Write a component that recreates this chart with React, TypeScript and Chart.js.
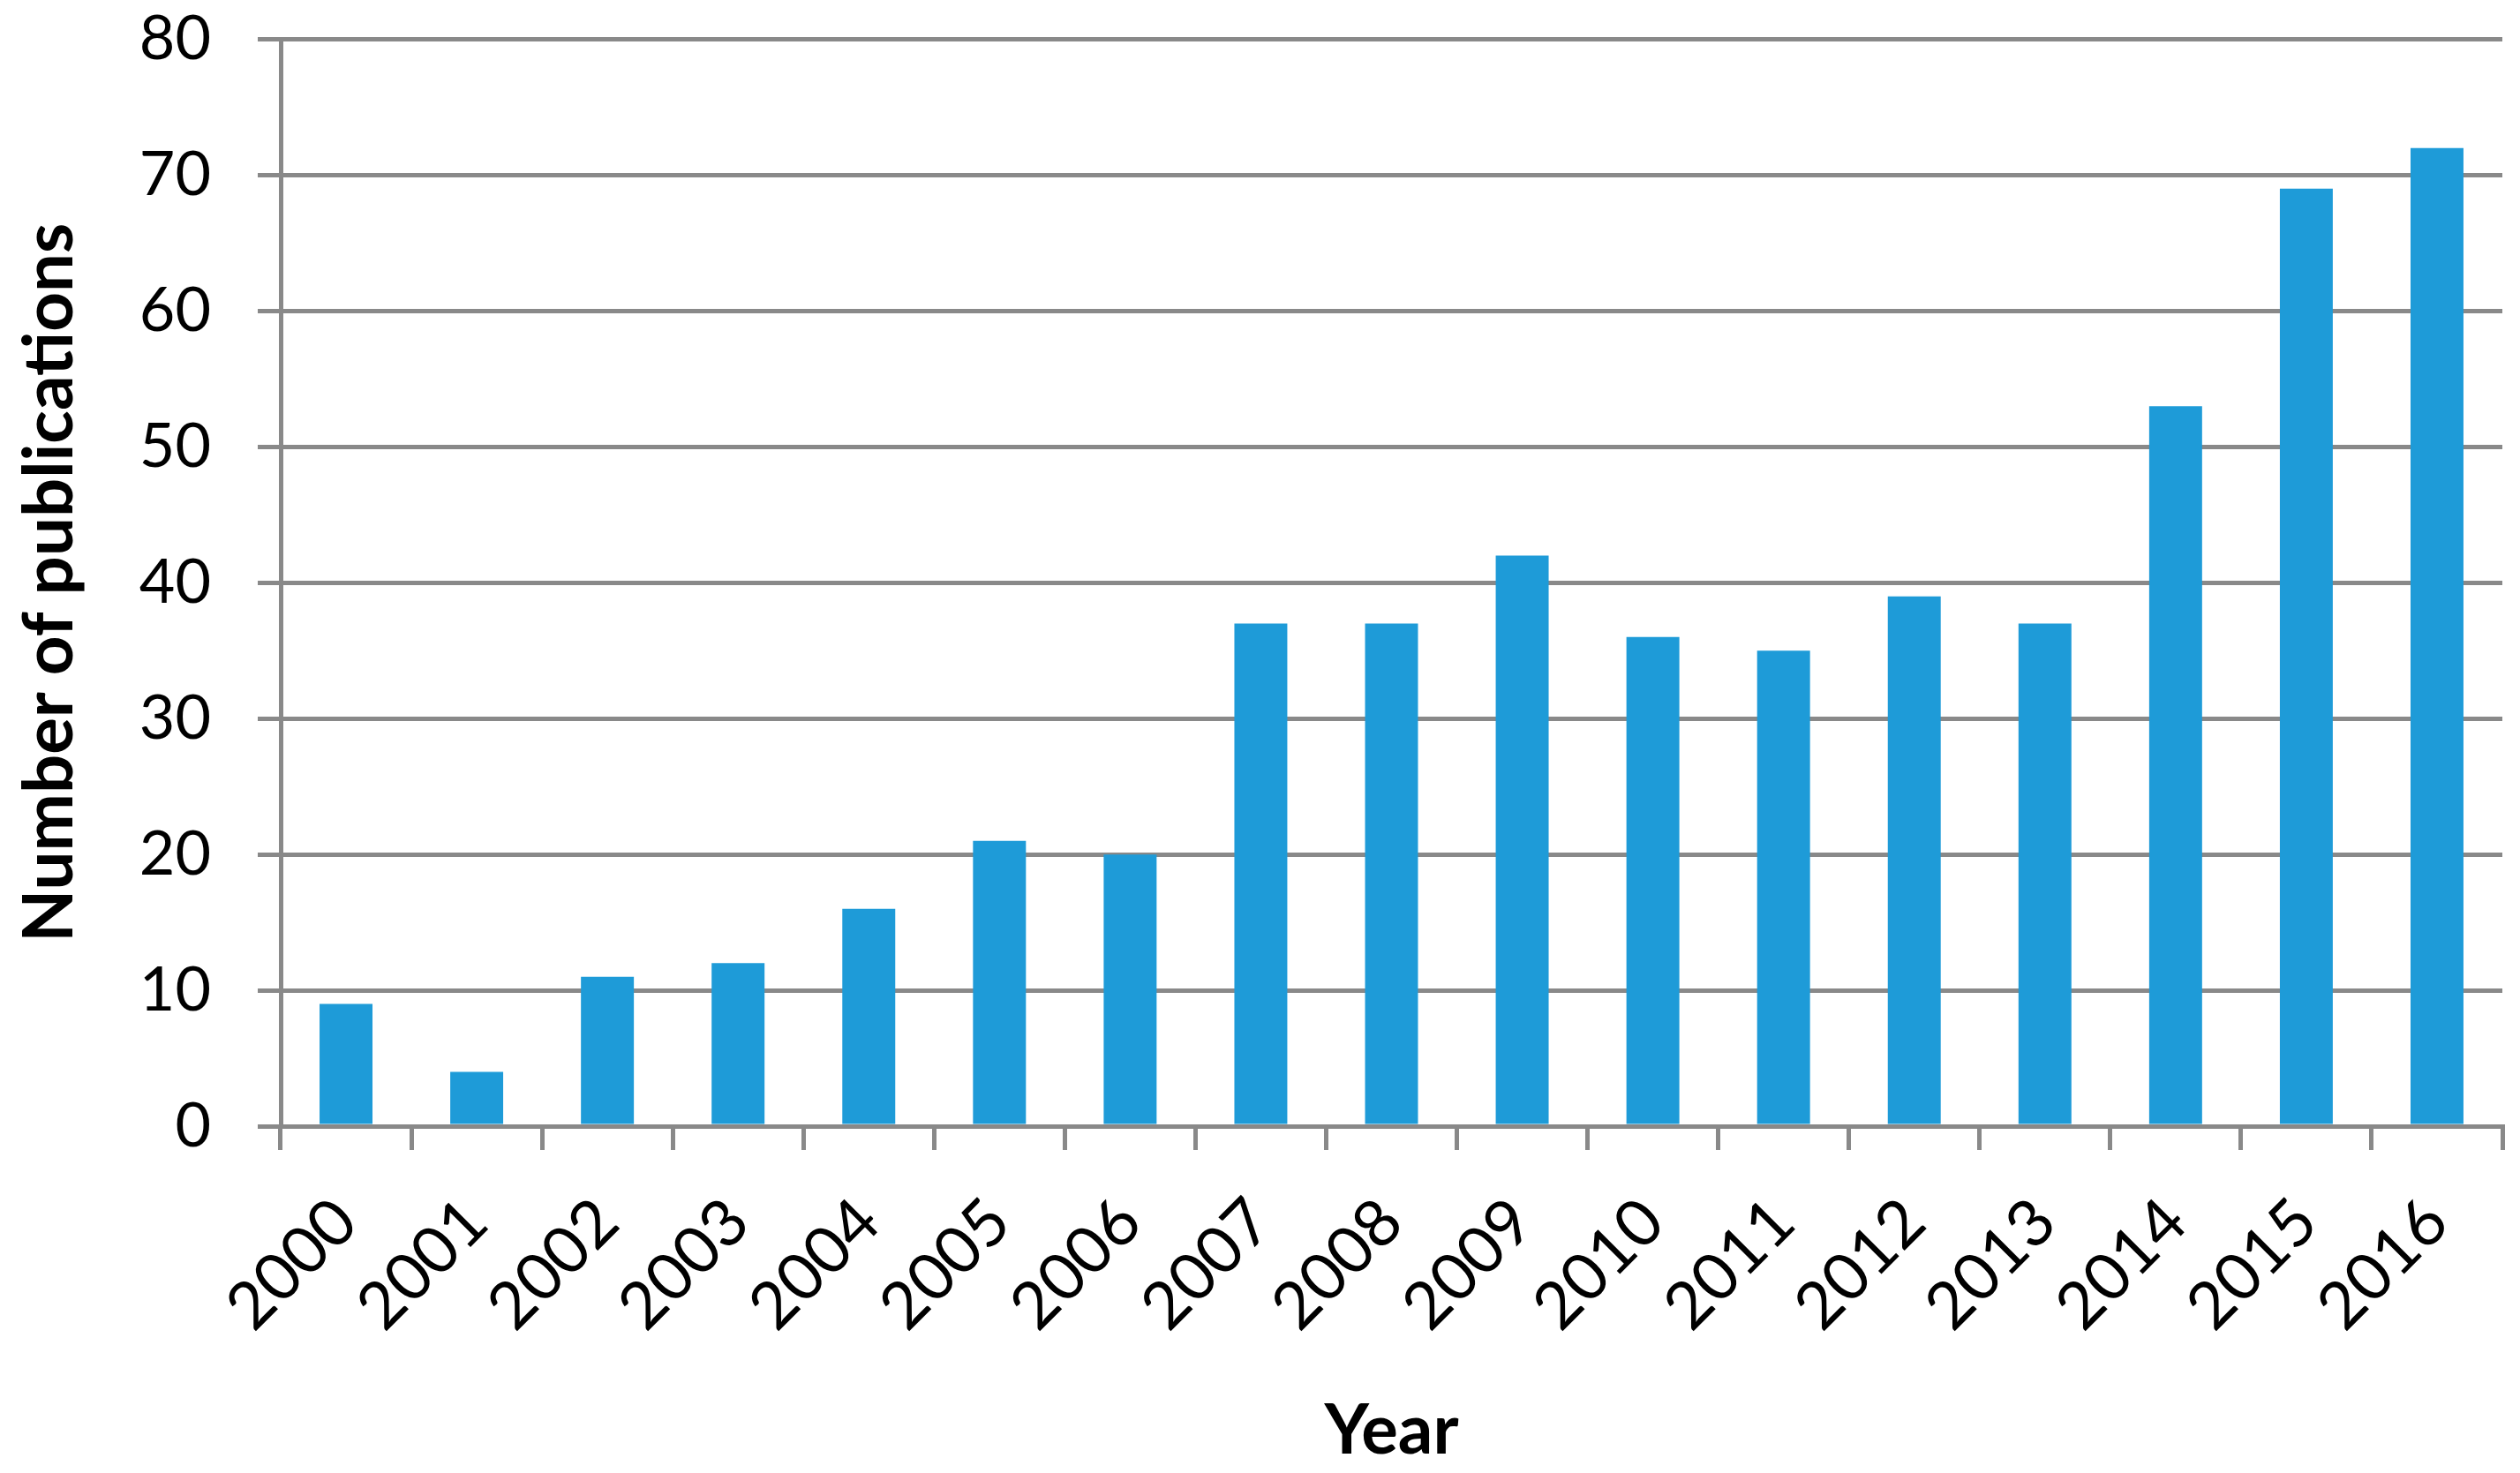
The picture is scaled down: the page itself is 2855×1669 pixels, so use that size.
import React, { useEffect, useRef } from "react";
import { Chart, registerables } from "chart.js";

Chart.register(...registerables);

const years = ["2000", "2001", "2002", "2003", "2004", "2005", "2006", "2007", "2008", "2009", "2010", "2011", "2012", "2013", "2014", "2015", "2016"];
const publications = [9, 4, 11, 12, 16, 21, 20, 37, 37, 42, 36, 35, 39, 37, 53, 69, 72];
const yTicks = [0, 10, 20, 30, 40, 50, 60, 70, 80];

const W = 2855;
const H = 1669;
const GRID = "#898989";
const BAR = "#1E9BD8";
const FONT = "Lato";

export default function App() {
  const ref = useRef<HTMLCanvasElement | null>(null);
  useEffect(() => {
    document.body.style.margin = "0";
    const ctx = ref.current!.getContext("2d")!;
    const chart = new Chart(ctx, {
      type: "bar",
      data: {
        labels: years,
        datasets: [
          {
            data: publications,
            backgroundColor: BAR,
            borderWidth: 0,
            barPercentage: 0.405,
            categoryPercentage: 1,
          },
        ],
      },
      options: {
        animation: false,
        responsive: false,
        maintainAspectRatio: false,
        events: [],
        layout: { padding: { left: 0, right: 20, top: 44.5, bottom: 0 } },
        plugins: { legend: { display: false }, tooltip: { enabled: false } },
        scales: {
          x: {
            offset: true,
            grid: {
              offset: true,
              drawOnChartArea: false,
              drawTicks: true,
              tickLength: 27,
              tickWidth: 5,
              tickColor: GRID,
              color: GRID,
              lineWidth: 5,
            },
            border: { display: true, color: GRID, width: 5 },
            ticks: {
              autoSkip: false,
              minRotation: 45,
              maxRotation: 45,
              padding: 38,
              color: "#000",
              font: { family: FONT, size: 74 },
            },
            title: {
              display: true,
              text: "Year",
              color: "#000",
              font: { family: FONT, size: 78, weight: "bold" },
              padding: { top: 0, bottom: 0 },
            },
            afterFit: (scale: any) => {
              scale.height = H - 1276;
              scale.paddingLeft = 0;
              scale.paddingRight = 0;
              scale.paddingTop = 0;
              scale.paddingBottom = 0;
            },
          },
          y: {
            min: 0,
            max: 80,
            afterBuildTicks: (scale: any) => {
              scale.ticks = yTicks.map((v) => ({ value: v }));
            },
            grid: {
              color: GRID,
              lineWidth: 5,
              drawTicks: true,
              tickLength: 26,
              tickColor: GRID,
              tickWidth: 5,
            },
            border: { display: true, color: GRID, width: 5 },
            ticks: {
              padding: 53,
              color: "#000",
              font: { family: FONT, size: 70 },
            },
            title: {
              display: true,
              text: "Number of publications",
              color: "#000",
              font: { family: FONT, size: 78, weight: "bold" },
              padding: { top: 10, bottom: 0 },
            },
            afterFit: (scale: any) => {
              scale.width = 318;
              scale.paddingLeft = 0;
              scale.paddingRight = 0;
              scale.paddingTop = 0;
              scale.paddingBottom = 0;
            },
          },
        },
      },
    });
    return () => chart.destroy();
  }, []);
  return (
    <div style={{ position: "absolute", left: 0, top: 0, width: W, height: H, background: "#fff" }}>
      <canvas ref={ref} width={W} height={H} style={{ width: W, height: H, display: "block" }} />
    </div>
  );
}
